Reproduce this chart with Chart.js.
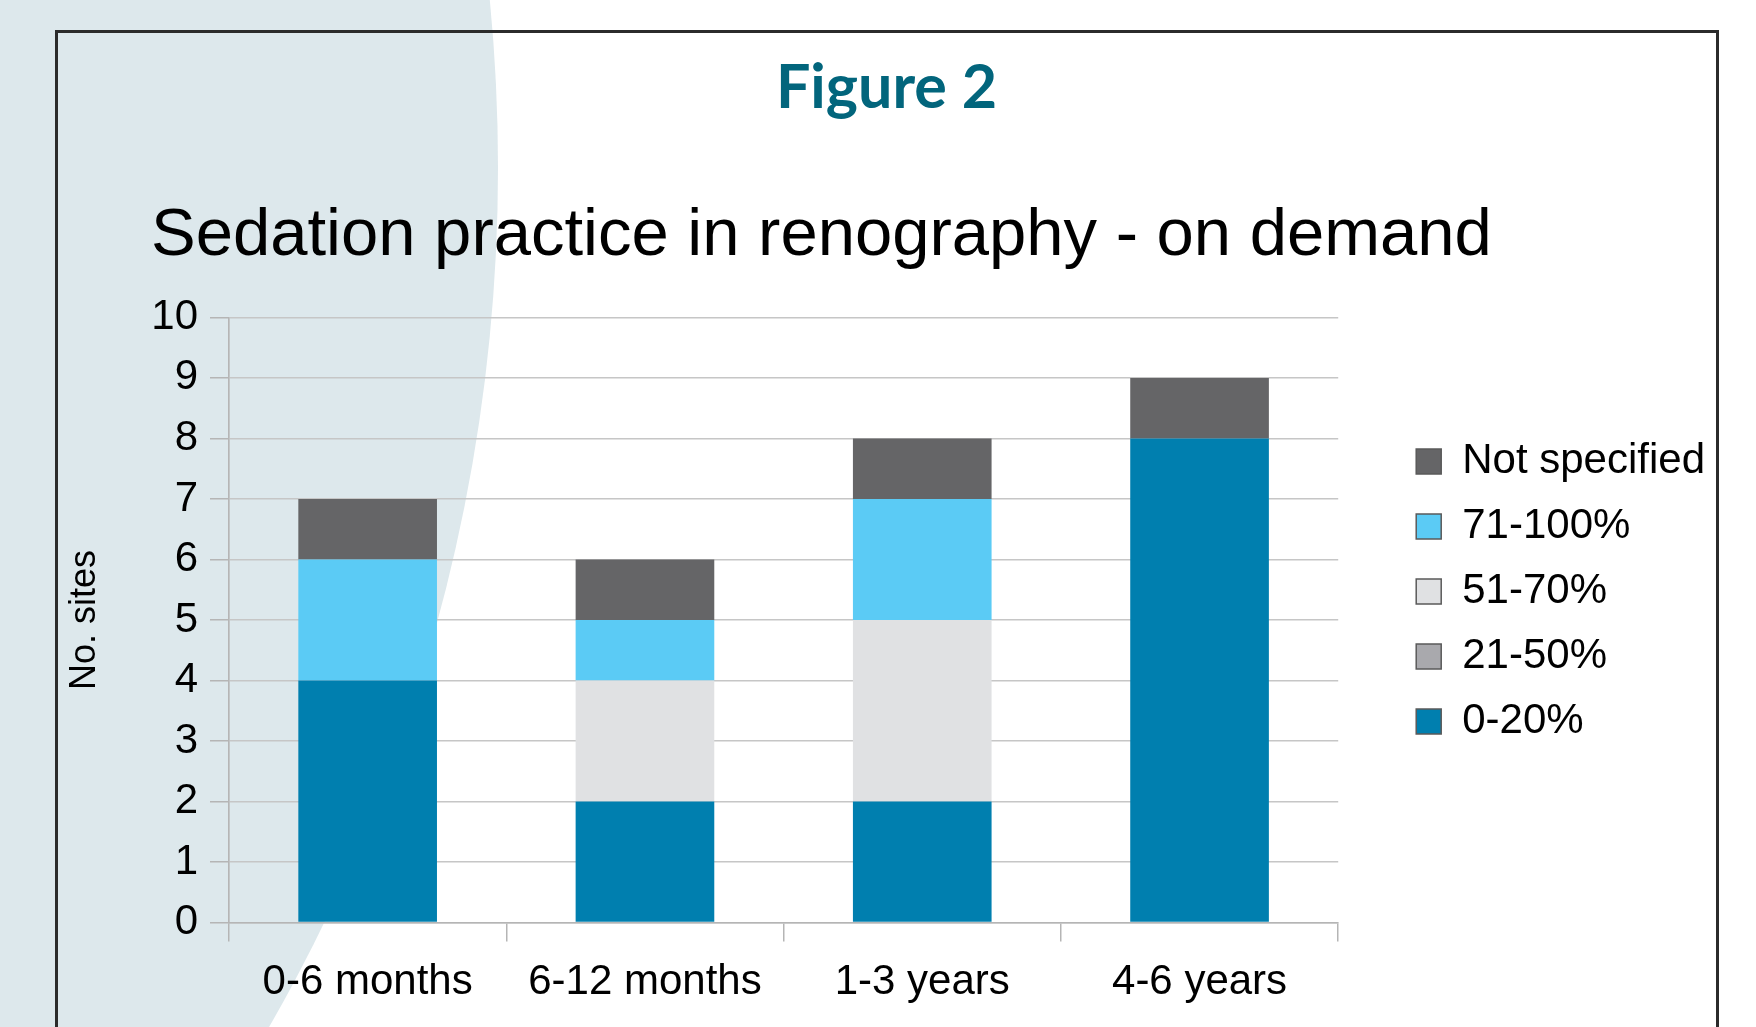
<!DOCTYPE html>
<html>
<head>
<meta charset="utf-8">
<title>Figure 2</title>
<script src="https://cdn.jsdelivr.net/npm/chart.js@4.4.1/dist/chart.umd.min.js"></script>
<style>
  html, body { margin: 0; padding: 0; }
  body { width: 1756px; height: 1027px; position: relative; overflow: hidden; background: #fff; }
  .bg-arc {
    position: absolute; left: -2954px; top: -1558px;
    width: 3452px; height: 3452px; border-radius: 50%;
    background: #dde8ec;
  }
  .frame {
    position: absolute; left: 55px; top: 30px; width: 1664px; height: 1100px;
    box-sizing: border-box; border: 3px solid #2b2b2b; border-bottom: none;
  }
  .fig-title {
    position: absolute; left: 58px; top: 54px; width: 1657px;
    text-align: center; font: 700 61px/61px Lato, "Open Sans", sans-serif; color: #02657c;
  }
  .chart-box { position: absolute; left: 58px; top: 130px; width: 1657px; height: 897px; }
</style>
</head>
<body>
<div class="bg-arc"></div>
<div class="frame"></div>
<div class="fig-title">Figure 2</div>
<div class="chart-box"><canvas id="sedation"></canvas></div>

<script>
// data
var categories = ["0-6 months", "6-12 months", "1-3 years", "4-6 years"];
var seriesNames = ["0-20%", "21-50%", "51-70%", "71-100%", "Not specified"];
var share0to20 = [4, 2, 2, 8];
var share21to50 = [0, 0, 0, 0];
var share51to70 = [0, 2, 3, 0];
var share71to100 = [2, 1, 2, 0];
var notSpecified = [1, 1, 1, 1];
var seriesColors = ["#007faf", "#a9a9ad", "#e0e1e3", "#5bcbf5", "#656567"];
var yMax = 10;

var gridColor = "#c6c6c6";
Chart.defaults.font.family = "'Liberation Sans', Arial, sans-serif";
Chart.defaults.color = "#000";

var seriesValues = [share0to20, share21to50, share51to70, share71to100, notSpecified];
var datasets = seriesValues.map(function (vals, i) {
  return {
    label: seriesNames[i],
    data: vals,
    backgroundColor: seriesColors[i],
    borderWidth: 0,
    barPercentage: 0.5,
    categoryPercentage: 1
  };
});

new Chart("sedation", {
  type: "bar",
  data: { labels: categories, datasets: datasets },
  options: {
    responsive: true,
    maintainAspectRatio: false,
    animation: false,
    layout: { padding: { left: 93, right: 0, top: 0, bottom: 3 } },
    scales: {
      x: {
        stacked: true,
        grid: {
          offset: true,
          lineWidth: 1.5,
          tickLength: 19,
          tickColor: "#b5b5b5",
          color: function (ctx) {
            return (ctx.index === 0 || ctx.index === categories.length) ? gridColor : "transparent";
          }
        },
        border: { color: "#b5b5b5", width: 1.5 },
        ticks: { font: { size: 42 }, padding: 16, color: "#000" }
      },
      y: {
        stacked: true,
        min: 0,
        max: yMax,
        grid: { color: gridColor, lineWidth: 1.5, tickLength: 19, tickColor: "#b5b5b5" },
        border: { color: "#b5b5b5", width: 1.5 },
        ticks: { stepSize: 1, font: { size: 42 }, padding: 12, color: "#000" },
        title: {
          display: true,
          text: "No. sites",
          font: { size: 36 },
          color: "#000",
          padding: { top: -88, bottom: 0 }
        },
        afterFit: function (scale) { scale.width = 78; }
      },
      gap: {
        position: "right",
        grid: { display: false },
        border: { display: false },
        ticks: { display: false },
        afterFit: function (scale) { scale.width = 55; }
      }
    },
    plugins: {
      title: {
        display: true,
        text: "Sedation practice in renography - on demand",
        align: "start",
        color: "#000",
        font: { size: 67, weight: "normal" },
        padding: { top: 66, bottom: 41 }
      },
      legend: {
        position: "right",
        align: "start",
        fullSize: false,
        reverse: true,
        maxWidth: 340,
        title: { display: true, text: "", font: { size: 10 }, padding: { top: 0, bottom: 88 } },
        labels: {
          boxWidth: 25,
          boxHeight: 25,
          padding: 23,
          color: "#000",
          font: { size: 42 },
          generateLabels: function (chart) {
            var items = Chart.defaults.plugins.legend.labels.generateLabels(chart);
            items.forEach(function (it) {
              it.lineWidth = 1.5;
              it.strokeStyle = "#5a5a5a";
            });
            return items;
          }
        }
      },
      tooltip: { enabled: false }
    }
  }
});
</script>
</body>
</html>
